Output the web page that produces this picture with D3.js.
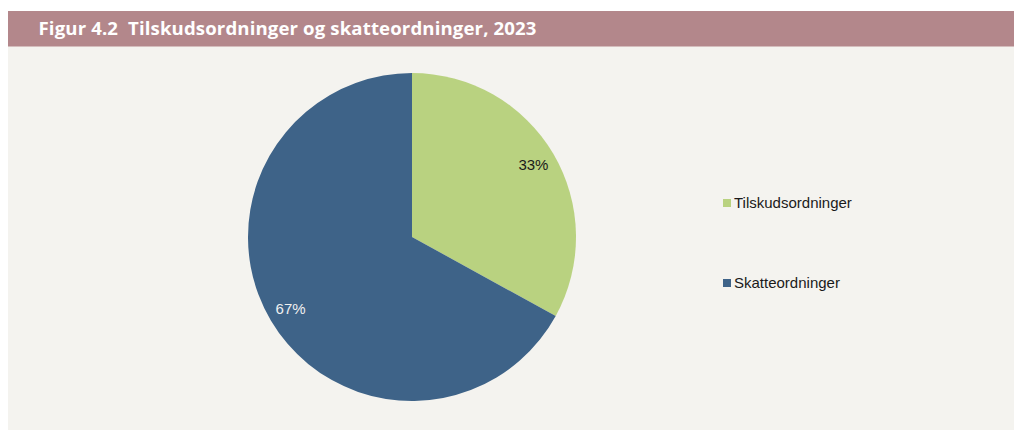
<!DOCTYPE html>
<html>
<head>
<meta charset="utf-8">
<script src="https://cdn.jsdelivr.net/npm/d3@7"></script>
<style>
  body { margin: 0; background: #ffffff; }
</style>
</head>
<body>
<div id="chart"></div>
<script>
// data
const kategorier = ["Tilskudsordninger", "Skatteordninger"];
const andele = [33, 67];
const farver = ["#b9d280", "#3e6388"];
const etiketFarver = ["#1a1a1a", "#f0f0f0"];
const titel = "Figur 4.2  Tilskudsordninger og skatteordninger, 2023";

const W = 1014, H = 430;

const svg = d3.select("#chart").append("svg")
    .attr("width", W)
    .attr("height", H);

// beige panel + title bar
svg.append("rect")
    .attr("x", 8).attr("y", 11)
    .attr("width", W - 8).attr("height", H - 11)
    .attr("fill", "#f4f3ef");

svg.append("rect")
    .attr("x", 8).attr("y", 11)
    .attr("width", W - 8).attr("height", 35.5)
    .attr("fill", "#b3878b");

svg.append("text")
    .attr("x", 38.5).attr("y", 35)
    .attr("fill", "#ffffff")
    .attr("font-family", "'Open Sans', sans-serif")
    .attr("font-weight", "bold")
    .attr("font-size", 18.6)
    .attr("textLength", 498)
    .attr("lengthAdjust", "spacing")
    .style("white-space", "pre")
    .text(titel);

// pie
const cx = 412, cy = 237, r = 164;
const pie = d3.pie().sort(null).value(d => d);
const arc = d3.arc().innerRadius(0).outerRadius(r);
const labelArc = d3.arc().innerRadius(r * 0.86).outerRadius(r * 0.86);

const g = svg.append("g").attr("transform", `translate(${cx},${cy})`);
const slices = pie(andele);

g.selectAll("path")
    .data(slices)
    .join("path")
    .attr("d", arc)
    .attr("fill", (d, i) => farver[i]);

g.selectAll("text")
    .data(slices)
    .join("text")
    .attr("transform", d => `translate(${labelArc.centroid(d)})`)
    .attr("text-anchor", "middle")
    .attr("dy", "0.35em")
    .attr("font-family", "'Liberation Sans', Arial, sans-serif")
    .attr("font-size", 15)
    .attr("fill", (d, i) => etiketFarver[i])
    .text(d => d.data + "%");

// legend
const legY = d3.scalePoint().domain(kategorier).range([203, 283]);
const leg = svg.append("g").selectAll("g")
    .data(kategorier)
    .join("g")
    .attr("transform", d => `translate(723,${legY(d)})`);

leg.append("rect")
    .attr("x", 0).attr("y", -4)
    .attr("width", 8).attr("height", 8)
    .attr("fill", (d, i) => farver[i]);

leg.append("text")
    .attr("x", 11).attr("y", 0)
    .attr("dy", "0.35em")
    .attr("font-family", "'Liberation Sans', Arial, sans-serif")
    .attr("font-size", 15)
    .attr("fill", "#1a1a1a")
    .text(d => d);
</script>
</body>
</html>
